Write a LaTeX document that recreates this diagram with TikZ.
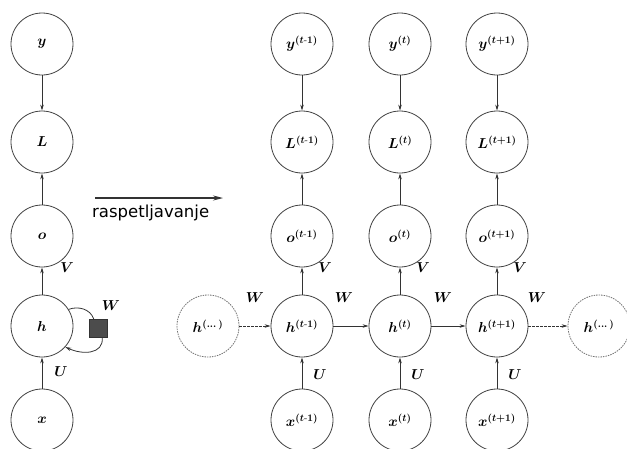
\documentclass[tikz,border=0pt]{standalone}
\usepackage{amsmath}
\usepackage{fontspec}
\newfontfamily\labelfont{DejaVu Sans}
\usetikzlibrary{arrows.meta}
\begin{document}
\begin{tikzpicture}[x=1pt,y=-1pt,
  unit/.style={circle,draw=black!75,line width=0.8pt,minimum size=62pt,inner sep=0pt,font=\fontsize{14.5}{16}\selectfont\boldmath},
  dunit/.style={unit,draw=black!55,dash pattern=on 1.5pt off 1pt},
  conn/.style={draw=black!80,line width=0.8pt,-{Stealth[length=6pt,width=3.5pt]}},
  dconn/.style={conn,dash pattern=on 2.5pt off 1.5pt},
  wlab/.style={font=\fontsize{14.5}{16}\selectfont\boldmath},
]
\useasboundingbox (0,0) rectangle (627,448);
% folded network
\node[unit] (y) at (42,44) {$y$};
\node[unit] (L) at (42,142) {$L$};
\node[unit] (o) at (42,236) {$o$};
\node[unit] (h) at (42,326) {$h$};
\node[unit] (x) at (42,420) {$x$};
\node[fill=black!70,draw=black!80,minimum size=18pt,inner sep=0pt] (sq) at (98,328) {};
\draw[conn] (y) -- (L);
\draw[conn] (o) -- (L);
\draw[conn] (h) -- (o);
\draw[conn] (x) -- (h);
\draw[draw=black!80,line width=0.8pt] (h.32) to[out=20,in=110] (sq.115);
\draw[conn] (sq.-65) to[out=-85,in=-25,looseness=1.2] (h.-42);
\node[wlab] (lw) at (111,306) {$W$};
\node[wlab] (lv) at (67,268) {$V$};
\node[wlab] (lu) at (61,372) {$U$};
% unfolding arrow
\coordinate (ua) at (95,198);
\coordinate (ub) at (223,198);
\draw[draw=black!80,line width=1.1pt,-{Stealth[length=10pt,width=5pt]}] (ua) -- (ub);
\node[font=\labelfont\fontsize{16.5}{18}\selectfont,anchor=north west,inner sep=0pt] (ut) at (92,205) {raspetljavanje};
% unfolded network
\foreach \n/\xx/\s in {a/302/{t\text{-}1},b/400/{t},c/497/{t+1}}{
  \node[unit] (y\n) at (\xx,44) {$y^{(\s)}$};
  \node[unit] (L\n) at (\xx,142) {$L^{(\s)}$};
  \node[unit] (o\n) at (\xx,236) {$o^{(\s)}$};
  \node[unit] (h\n) at (\xx,326) {$h^{(\s)}$};
  \node[unit] (x\n) at (\xx,420) {$x^{(\s)}$};
  \draw[conn] (y\n) -- (L\n);
  \draw[conn] (o\n) -- (L\n);
  \draw[conn] (h\n) -- (o\n);
  \draw[conn] (x\n) -- (h\n);
  \node[wlab] (v\n) at (\xx+23,268) {$V$};
  \node[wlab] (u\n) at (\xx+18,375) {$U$};
}
\node[dunit] (hl) at (208,326) {$h^{(\dots)}$};
\node[dunit] (hr) at (599,326) {$h^{(\dots)}$};
\draw[dconn] (hl) -- (ha);
\draw[conn] (ha) -- (hb);
\draw[conn] (hb) -- (hc);
\draw[dconn] (hc) -- (hr);
\node[wlab] (w1) at (255,298) {$W$};
\node[wlab] (w2) at (344,298) {$W$};
\node[wlab] (w3) at (443,298) {$W$};
\node[wlab] (w4) at (537,298) {$W$};
\end{tikzpicture}
\end{document}
